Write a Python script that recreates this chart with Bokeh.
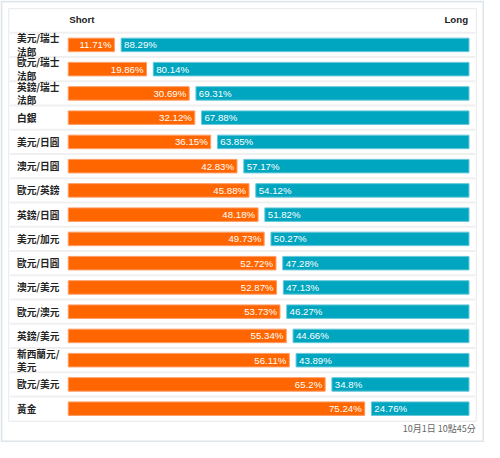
from bokeh.plotting import figure
from bokeh.models import Range1d, ColumnDataSource
from bokeh.core.properties import value
from bokeh.embed import file_html
from bokeh.resources import INLINE

# ---- data ----
pairs = ["美元/瑞士法郎", "歐元/瑞士法郎", "英鎊/瑞士法郎", "白銀", "美元/日圓", "澳元/日圓",
         "歐元/英鎊", "英鎊/日圓", "美元/加元", "歐元/日圓", "澳元/美元", "歐元/澳元",
         "英鎊/美元", "新西蘭元/美元", "歐元/美元", "黃金"]
short_pct = [11.71, 19.86, 30.69, 32.12, 36.15, 42.83, 45.88, 48.18, 49.73, 52.72,
             52.87, 53.73, 55.34, 56.11, 65.2, 75.24]
long_pct = [88.29, 80.14, 69.31, 67.88, 63.85, 57.17, 54.12, 51.82, 50.27, 47.28,
            47.13, 46.27, 44.66, 43.89, 34.8, 24.76]
header_short = "Short"
header_long = "Long"
timestamp = "10月1日 10點45分"

# ---- layout (design units of a 500x458 canvas, drawn at 484x442) ----
DW, DH = 500, 458
W, H = 484, 442
S = W / DW
PX_PER_PCT = 4.07
X0_PX = 70.0
GAP = 7 / PX_PER_PCT
ROW_PX = 25.13
ROW0_PX = 46.0

def px_x(px):
    return (px - X0_PX) / PX_PER_PCT

def px_y(py):
    return (py - ROW0_PX) / ROW_PX

def fs(px):
    return f"{px * S:.2f}px"

p = figure(width=W, height=H,
           x_range=Range1d(px_x(0), px_x(DW)), y_range=Range1d(px_y(DH), px_y(0)),
           output_backend="svg", toolbar_location=None,
           x_axis_location=None, y_axis_location=None,
           min_border=0, min_border_left=0, min_border_right=0,
           min_border_top=0, min_border_bottom=0)
p.grid.visible = False
p.outline_line_color = None
p.background_fill_color = "white"
p.border_fill_color = "white"

# outer frame
p.quad(left=[px_x(1)], right=[px_x(499)], top=[px_y(1)], bottom=[px_y(457)],
       fill_color="white", line_color="#dde6e9", line_width=2)
# panel
p.quad(left=[px_x(8.5)], right=[px_x(491.5)], top=[px_y(8.5)], bottom=[px_y(436)],
       fill_color="white", line_color="#e6eaec", line_width=1)

n = len(pairs)
idx = list(range(n))

# row separators
sep_y = [i - 0.5 for i in range(n)]
p.segment(x0=[px_x(9.5)] * len(sep_y), x1=[px_x(490.5)] * len(sep_y), y0=sep_y, y1=sep_y,
          line_color="#f0f0f0", line_width=2)

def wrap(s):
    return s if len(s) <= 6 else s[:5] + "\n" + s[5:]

src = ColumnDataSource(dict(
    y=idx,
    short=short_pct,
    long_left=[s + GAP for s in short_pct],
    long_right=[s + l + GAP for s, l in zip(short_pct, long_pct)],
    short_lbl=[f"{s}%" for s in short_pct],
    long_lbl=[f"{l}%" for l in long_pct],
    short_lx=[s - 3 / PX_PER_PCT for s in short_pct],
    long_lx=[s + GAP + 3 / PX_PER_PCT for s in short_pct],
    name=[wrap(s) for s in pairs],
))

bh = 14 / ROW_PX
p.hbar(y="y", left=0, right="short", height=bh, source=src,
       fill_color="#ff6600", line_color="#ff9d66", line_width=1)
p.hbar(y="y", left="long_left", right="long_right", height=bh, source=src,
       fill_color="#00a5bf", line_color="#66c9d9", line_width=1)

p.text(x="short_lx", y="y", text="short_lbl", source=src, text_color="white",
       text_align="right", text_baseline="middle", text_font_size=fs(10),
       text_font=value("Liberation Sans"))
p.text(x="long_lx", y="y", text="long_lbl", source=src, text_color="white",
       text_align="left", text_baseline="middle", text_font_size=fs(10),
       text_font=value("Liberation Sans"))

p.text(x=px_x(17), y="y", text="name", source=src, text_color="#222222",
       text_align="left", text_baseline="middle", text_font_size=fs(10),
       text_font_style="bold", text_line_height=0.95,
       text_font=value("Noto Sans CJK TC"))

# headers
p.text(x=[px_x(71)], y=[px_y(20)], text=[header_short], text_color="#222222",
       text_align="left", text_baseline="middle", text_font_size=fs(10),
       text_font_style="bold", text_font=value("Liberation Sans"))
p.text(x=[px_x(483)], y=[px_y(20)], text=[header_long], text_color="#222222",
       text_align="right", text_baseline="middle", text_font_size=fs(10),
       text_font_style="bold", text_font=value("Liberation Sans"))

# timestamp
p.text(x=[px_x(491)], y=[px_y(444)], text=[timestamp], text_color="#666666",
       text_align="right", text_baseline="middle", text_font_size=fs(9.3),
       text_font=value("Noto Sans CJK TC"))

open("out.html", "w").write(file_html(p, INLINE))
